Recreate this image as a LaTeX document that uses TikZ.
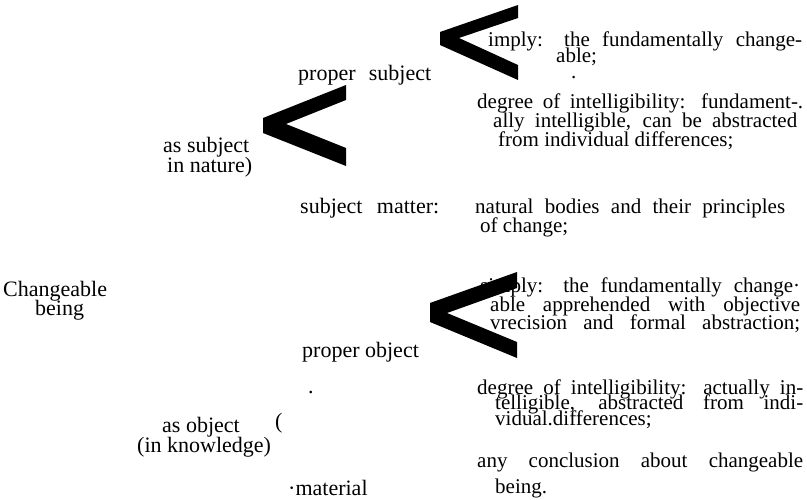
\documentclass[tikz,border=0pt]{standalone}
\usepackage{fontspec}
\setmainfont{Liberation Serif}
% one line of text spread out to a given width
\newcommand{\wline}[2]{\makebox[#1pt][s]{#2}}
\tikzset{
  lbl/.style={anchor=base west, inner sep=0pt, font=\fontsize{22}{22}\selectfont},
  gls/.style={anchor=base west, inner sep=0pt, font=\fontsize{21}{20}\selectfont},
}
\begin{document}
\begin{tikzpicture}[x=1pt,y=-1pt]
\useasboundingbox (0,0) rectangle (807,500);
% proper subject
\node[gls] (imply1) at (488,47) {\wline{314}{imply: the fundamentally change-}};
\node[gls] (imply2) at (556,63) {able;};
\node[gls] (dotA) at (571,79) {.};
\node[lbl] (psubj) at (298,81) {\wline{133}{proper subject}};
\node[gls] (degA1) at (477,109) {\wline{326}{degree of intelligibility: fundament-.}};
\node[gls] (degA2) at (493,128) {\wline{304}{ally intelligible, can be abstracted}};
\node[gls] (degA3) at (498,147) {from individual differences;};
\node[lbl] (asubj1) at (163,153) {as subject};
\node[lbl] (asubj2) at (167,173) {in nature)};
\node[lbl] (smat) at (300,214) {\wline{139}{subject matter:}};
\node[gls] (nat1) at (475,214) {\wline{310}{natural bodies and their principles}};
\node[gls] (nat2) at (480,233) {of change;};
% root
\node[lbl] (chg1) at (3,297) {Changeable};
\node[lbl] (chg2) at (35,316) {being};
% proper object
\node[gls] (simp1) at (480,293) {\wline{320}{simply: the fundamentally change·}};
\node[gls] (simp2) at (490,312) {\wline{310}{able apprehended with objective}};
\node[gls] (simp3) at (490,330) {\wline{310}{vrecision and formal abstraction;}};
\node[lbl] (pobj) at (302,357) {proper object};
\node[lbl] (dotB) at (308,393) {.};
\node[gls] (degB1) at (477,394) {\wline{326}{degree of intelligibility: actually in-}};
\node[gls] (degB2) at (495,409) {\wline{308}{telligible, abstracted from indi-}};
\node[gls] (degB3) at (495,425) {vidual.differences;};
\node[lbl] (aobj1) at (162,432) {as object};
\node[lbl] (aobj2) at (137,452) {(in knowledge)};
\node[lbl] (paren) at (275,428) {(};
\node[gls] (conc1) at (477,467) {\wline{326}{any conclusion about changeable}};
\node[gls] (conc2) at (495,493) {being.};
\node[lbl] (mat) at (288,495) {·material};
% the three big angle marks
\fill (518,5) -- (440,32) -- (440,45) -- (518,80) -- (518,65) -- (459,38) -- (518,18) -- cycle;
\fill (346,85) -- (263,118) -- (263,133) -- (346,166) -- (346,148) -- (286,124) -- (346,100) -- cycle;
\fill (517,272) -- (430,303) -- (430,322) -- (517,358) -- (517,342) -- (447,313) -- (517,288) -- cycle;
\end{tikzpicture}
\end{document}
